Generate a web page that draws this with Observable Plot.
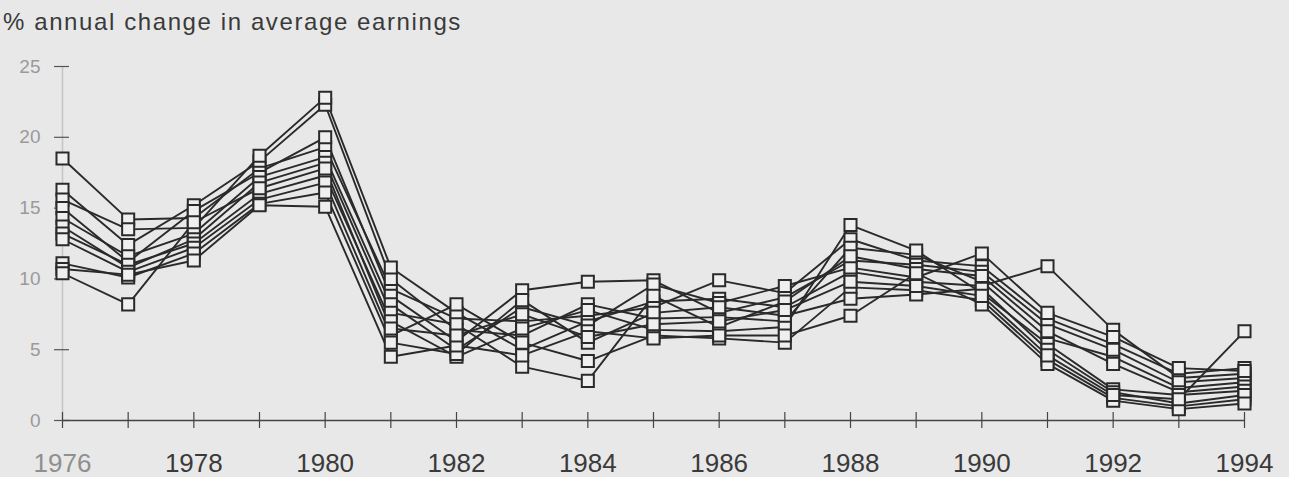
<!DOCTYPE html>
<html>
<head>
<meta charset="utf-8">
<script src="https://cdn.jsdelivr.net/npm/d3@7"></script>
<script src="https://cdn.jsdelivr.net/npm/@observablehq/plot@0.6"></script>
<style>
  html, body { margin: 0; padding: 0; background: #e8e8e8; }
  body { width: 1289px; height: 477px; overflow: hidden; font-family: "Liberation Sans", Arial, sans-serif; }
  #title { height: 44px; line-height: 44px; padding-left: 3px; font-size: 24px; letter-spacing: 1.6px; color: #3a3a3a; white-space: nowrap; }
</style>
</head>
<body>
<div id="title">% annual change in average earnings</div>
<div id="chart"></div>
<script>
const years = [1976,1977,1978,1979,1980,1981,1982,1983,1984,1985,1986,1987,1988,1989,1990,1991,1992,1993,1994];
const xTickLabelsFaded = [1976];
const xTickLabels = [1978,1980,1982,1984,1986,1988,1990,1992,1994];
const yTicks = [0,5,10,15,20,25];
const seriesNames = ["A","B","C","D","E","F","G","H","I","J","K"];
const sA = [18.5,14.2,14.3,17.8,19.3,9.3,7.2,7.0,7.4,8.0,9.9,9.0,12.8,11.3,10.9,7.2,5.4,3.3,3.7];
const sB = [16.3,12.4,15.2,18.3,22.3,10.0,6.4,6.0,8.2,7.2,7.3,7.0,12.2,11.7,9.8,5.8,4.5,2.3,2.7];
const sC = [15.6,13.5,13.6,18.7,22.8,10.8,7.6,5.0,7.0,8.4,8.6,8.0,10.5,9.8,9.5,10.9,6.4,3.0,3.3];
const sD = [15.0,11.2,14.8,17.5,20.0,8.8,5.6,9.2,9.8,9.9,7.6,8.7,11.3,11.0,10.5,6.8,5.0,2.7,3.0];
const sE = [14.3,11.6,13.2,17.2,18.6,8.2,5.0,8.0,6.7,9.6,8.3,9.5,10.8,10.1,11.8,7.6,5.9,3.7,3.5];
const sF = [13.7,10.8,12.8,16.8,18.2,7.6,6.8,3.8,2.8,8.8,6.6,8.4,11.6,10.7,10.2,6.3,4.0,2.0,2.4];
const sG = [13.2,11.0,12.5,16.0,17.3,7.0,4.5,6.5,7.8,6.4,6.3,6.6,13.8,12.0,9.0,5.4,2.2,1.8,2.1];
const sH = [12.8,10.5,12.2,15.6,16.8,6.0,8.2,5.5,4.2,6.0,5.8,5.5,9.4,9.2,8.5,4.3,1.6,1.0,1.5];
const sI = [11.1,10.1,11.8,15.3,16.1,5.5,4.7,8.5,5.5,7.6,8.0,7.4,8.6,8.9,9.3,5.0,2.0,1.2,1.8];
const sJ = [10.7,10.3,11.3,15.2,15.1,4.5,5.3,4.6,6.3,5.8,6.0,6.0,7.4,10.4,8.2,4.0,1.4,0.8,1.2];
const sK = [10.4,8.2,14.0,16.4,17.8,6.5,6.0,7.5,5.9,6.8,7.0,7.8,9.8,9.5,8.8,4.6,1.8,1.5,6.3];

const seriesValues = [sA,sB,sC,sD,sE,sF,sG,sH,sI,sJ,sK];
const data = seriesValues.flatMap((vals, i) => vals.map((v, j) => ({series: seriesNames[i], year: years[j], value: v})));

const ink = "#2a2a2a";
const chart = Plot.plot({
  width: 1289,
  height: 433,
  marginLeft: 62,
  marginRight: 45,
  marginTop: 22,
  marginBottom: 57,
  style: {background: "transparent", fontFamily: "'Liberation Sans', Arial, sans-serif"},
  x: {domain: [1976, 1994]},
  y: {domain: [0, 25]},
  marks: [
    Plot.ruleX([1976], {y1: 0, y2: 25, stroke: "#c4c4c4", strokeWidth: 1.5}),
    Plot.ruleY(yTicks, {y: d => d, x1: 1976, x2: 1976, insetLeft: -8, insetRight: -7, stroke: "#555", strokeWidth: 1.2}),
    Plot.ruleY([0], {stroke: "#444", strokeWidth: 1.3}),
    Plot.ruleX(years, {x: d => d, y1: 0, y2: 0, insetTop: -8, insetBottom: -8, stroke: "#444", strokeWidth: 1.2}),
    Plot.axisY({ticks: yTicks, tickSize: 0, tickPadding: 22, fontSize: 19, color: "#9a9a9a", label: null}),
    Plot.axisX({ticks: xTickLabelsFaded, tickSize: 0, tickPadding: 33, fontSize: 26, color: "#8f8f8f", tickFormat: d => String(d), label: null, style: {letterSpacing: "0.5px"}}),
    Plot.axisX({ticks: xTickLabels, tickSize: 0, tickPadding: 33, fontSize: 26, color: "#3a3a3a", tickFormat: d => String(d), label: null, style: {letterSpacing: "0.5px"}}),
    Plot.line(data, {x: "year", y: "value", z: "series", stroke: ink, strokeWidth: 1.9}),
    Plot.dot(data, {x: "year", y: "value", symbol: "square", r: 6.8, fill: "#efefef", stroke: ink, strokeWidth: 2})
  ]
});
document.getElementById("chart").appendChild(chart);
</script>
</body>
</html>
